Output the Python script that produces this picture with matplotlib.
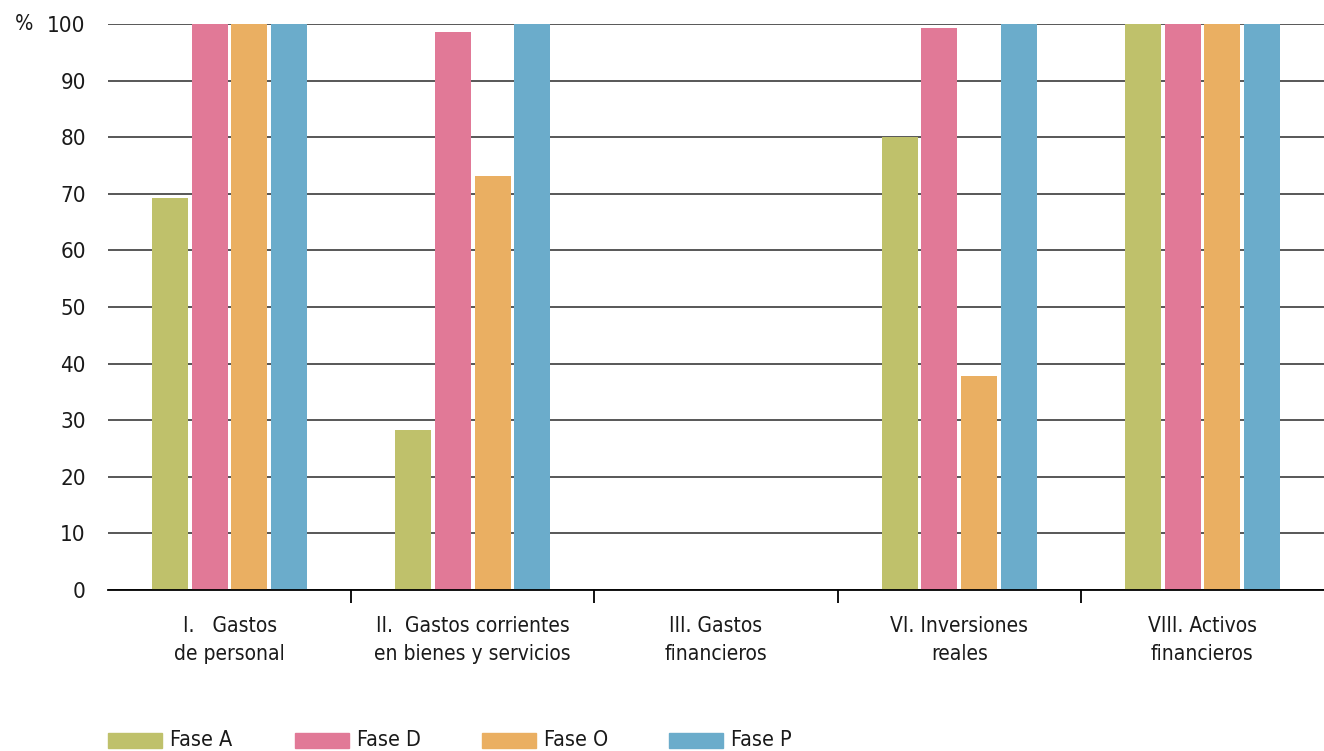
import matplotlib.pyplot as plt
import numpy as np
from matplotlib.patches import Rectangle

# data
categories = ["I.   Gastos\nde personal",
              "II.  Gastos corrientes\nen bienes y servicios",
              "III. Gastos\nfinancieros",
              "VI. Inversiones\nreales",
              "VIII. Activos\nfinancieros"]
fase_a = [69.3, 28.3, 0, 80.0, 100]
fase_d = [100, 98.6, 0, 99.3, 100]
fase_o = [100, 73.1, 0, 37.8, 100]
fase_p = [100, 100, 0, 100, 100]
series_names = ["Fase A", "Fase D", "Fase O", "Fase P"]
colors = ["#BFC16B", "#E17997", "#EAAF62", "#6BACCB"]

plt.rcParams['font.family'] = ['DejaVu Sans']
plt.rcParams['font.stretch'] = 'condensed'

fig = plt.figure(figsize=(13.24, 7.51), dpi=100)
ax = fig.add_axes([108/1324, 1 - 590/751, 1 - 108/1324, (590 - 24)/751])

x = np.arange(len(categories))
step = 0.163
width = 0.148
for i, vals in enumerate([fase_a, fase_d, fase_o, fase_p]):
	ax.bar(x + (i - 1.5)*step, vals, width, color=colors[i], zorder=3)

ax.set_xlim(-0.5, len(categories) - 0.5)
ax.set_ylim(0, 100)
ax.set_yticks(range(0, 101, 10))
ax.yaxis.grid(True, color="#4a4a4a", linewidth=1.3, zorder=0)
ax.set_axisbelow(True)

for s in ["left", "right", "top"]:
	ax.spines[s].set_visible(False)
ax.spines["bottom"].set_color("black")
ax.spines["bottom"].set_linewidth(1.3)
ax.spines["bottom"].set_zorder(4)

ax.tick_params(axis="y", length=0, pad=16, labelsize=16, colors="#1a1a1a")
ax.set_xticks(x)
ax.set_xticklabels(categories, fontsize=15, color="#1a1a1a", linespacing=1.5)
ax.tick_params(axis="x", which="major", length=0, pad=19)
ax.set_xticks(np.arange(0.5, len(categories) - 1, 1), minor=True)
ax.tick_params(axis="x", which="minor", length=9, width=1.3, color="black")

fig.text(15/1324, 1 - 24/751, "%", fontsize=15.5, va="center", ha="left", color="#1a1a1a")

# legend drawn manually along the bottom
for i, name in enumerate(series_names):
	lx = 108 + i*187
	fig.add_artist(Rectangle((lx/1324, 1 - 748/751), 54/1324, 15/751,
		transform=fig.transFigure, color=colors[i]))
	fig.text((lx + 62)/1324, 1 - 740/751, name, fontsize=15.5, va="center", ha="left", color="#1a1a1a")

fig.savefig("out.png", dpi=100)
